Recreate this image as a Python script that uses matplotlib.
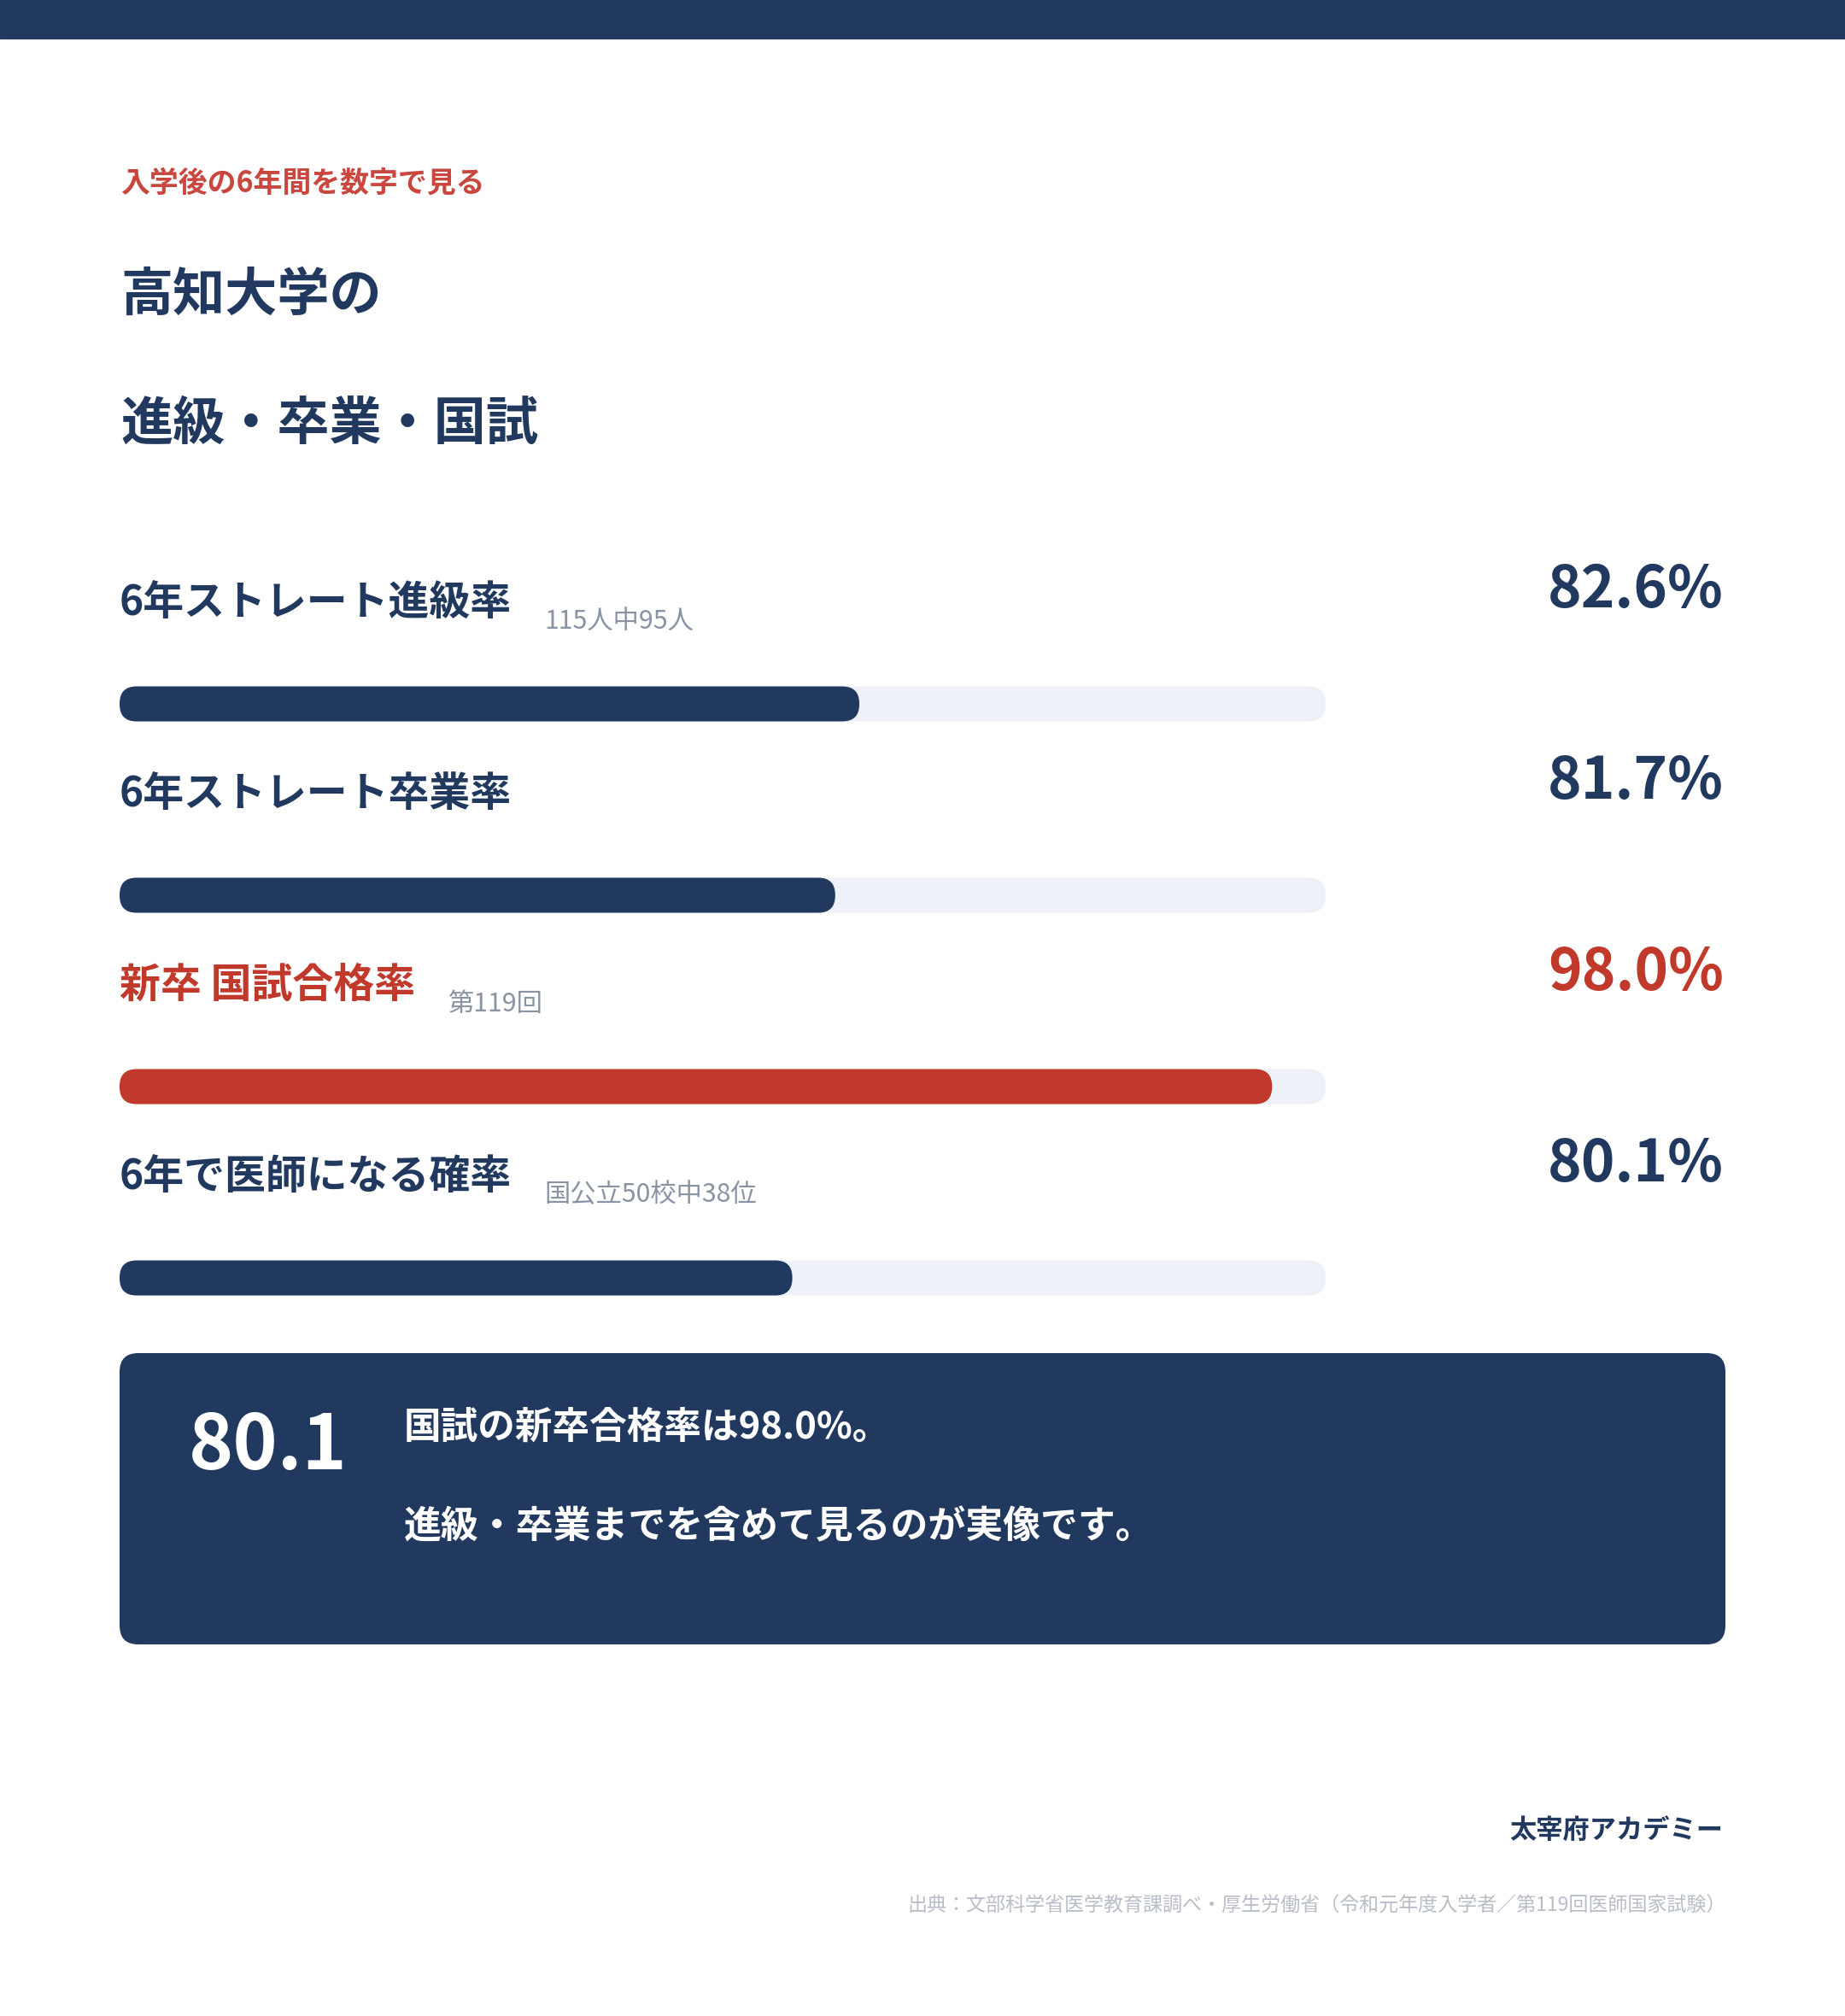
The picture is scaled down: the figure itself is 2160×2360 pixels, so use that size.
import matplotlib
matplotlib.use("Agg")
import matplotlib.pyplot as plt
from matplotlib.patches import FancyBboxPatch, Rectangle
from matplotlib.transforms import blended_transform_factory

plt.rcParams['font.family'] = ['Noto Sans CJK JP', 'DejaVu Sans']

# data
labels = ["6年ストレート進級率", "6年ストレート卒業率", "新卒 国試合格率", "6年で医師になる確率"]
notes = ["115人中95人", "", "第119回", "国公立50校中38位"]
values = [82.6, 81.7, 98.0, 80.1]
highlight = [False, False, True, False]

NAVY = "#21385f"
RED = "#c0392b"
TRACK = "#eef1f8"
GRAY = "#8a93a3"

W, H = 2160, 2360
fig = plt.figure(figsize=(W / 100, H / 100), dpi=100)
fig.patch.set_facecolor("white")

def fx(x):
    return x / W

def fy(y):
    return 1 - y / H

# top band
fig.patches.append(Rectangle((0, fy(45)), 1, 45 / H, transform=fig.transFigure,
                             color=NAVY, zorder=0))

fig.text(fx(141), fy(214), "入学後の6年間を数字で見る", color="#c9473f",
         fontsize=24.4, fontweight="bold", va="center")
fig.text(fx(141), fy(346), "高知大学の", color=NAVY, fontsize=44,
         fontweight="bold", va="center")
fig.text(fx(141), fy(497), "進級・卒業・国試", color=NAVY, fontsize=44,
         fontweight="bold", va="center")

# bars axes (scale starts at 55%)
x0, x1 = 55, 100
ax = fig.add_axes([fx(140), fy(1608), 1412 / W, 896 / H])
ax.set_xlim(x0, x1)
ax.set_ylim(len(values), 0)
ax.axis("off")

px_x = 1412 / (x1 - x0)
px_y = 896 / len(values)
bar_h = 41 / px_y
r = 20 / px_x
asp = (20 / px_y) / r

trans = blended_transform_factory(fig.transFigure, ax.transData)
fig.canvas.draw()
renderer = fig.canvas.get_renderer()

for i, (lab, note, v, hl) in enumerate(zip(labels, notes, values, highlight)):
    yc = i + 0.5
    col = RED if hl else NAVY
    ax.add_patch(FancyBboxPatch((x0, yc - bar_h / 2), x1 - x0, bar_h,
                                boxstyle=f"round,pad=0,rounding_size={r}",
                                mutation_aspect=asp, fc=TRACK, ec="none"))
    ax.add_patch(FancyBboxPatch((x0, yc - bar_h / 2), v - x0, bar_h,
                                boxstyle=f"round,pad=0,rounding_size={r}",
                                mutation_aspect=asp, fc=col, ec="none"))
    t = ax.text(x0, yc - 119 / px_y, lab, color=col, fontsize=34.5,
                fontweight="bold", va="center", ha="left")
    if note:
        bb = t.get_window_extent(renderer)
        nx = (bb.x1 + 38) / W
        ax.text(nx, yc - 97 / px_y, note, color=GRAY, fontsize=21.8,
                va="center", ha="left", transform=trans)
    ax.text(fx(2018), yc - 132 / px_y, f"{v:.1f}%", color=col, fontsize=48.5,
            fontweight="bold", va="center", ha="right", transform=trans)

# summary box
box_r = 22
fig.patches.append(FancyBboxPatch((fx(140), fy(1925)), (2020 - 140) / W, (1925 - 1584) / H,
                                  boxstyle=f"round,pad=0,rounding_size={box_r / W}",
                                  mutation_aspect=(box_r / H) / (box_r / W),
                                  transform=fig.transFigure, fc=NAVY, ec="none"))
fig.text(fx(221), fy(1694), f"{values[3]:.1f}", color="white", fontsize=64,
         fontweight="bold", va="center", ha="left")
fig.text(fx(473), fy(1671), f"国試の新卒合格率は{values[2]:.1f}%。", color="white",
         fontsize=31.4, fontweight="bold", va="center")
fig.text(fx(473), fy(1787), "進級・卒業までを含めて見るのが実像です。", color="white",
         fontsize=31.6, fontweight="bold", va="center")

# footer
fig.text(fx(2017), fy(2143), "太宰府アカデミー", color=NAVY, fontsize=22.5,
         fontweight="bold", va="center", ha="right")
fig.text(fx(2021), fy(2231),
         "出典：文部科学省医学教育課調べ・厚生労働省（令和元年度入学者／第119回医師国家試験）",
         color="#b8bdc8", fontsize=16.6, va="center", ha="right")

fig.savefig("out.png", dpi=100, facecolor="white")
